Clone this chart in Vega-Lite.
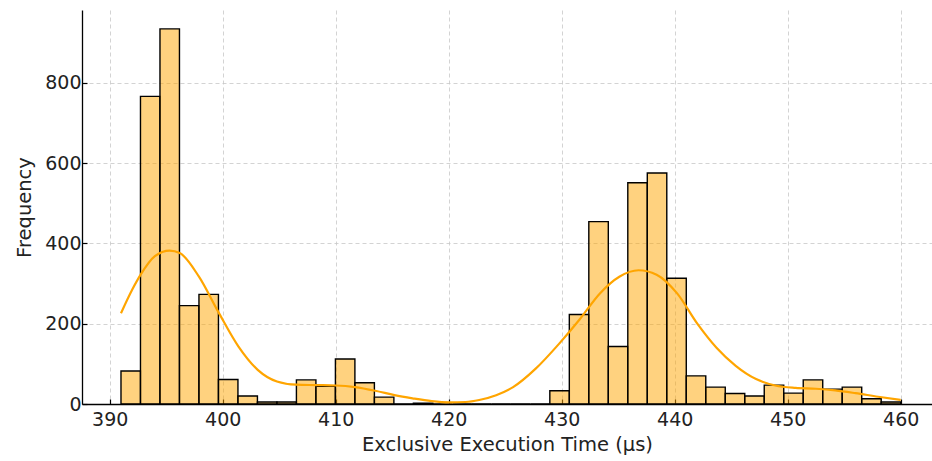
{
  "$schema": "https://vega.github.io/schema/vega-lite/v6.json",
  "width": 850,
  "height": 394,
  "autosize": {"type": "none"},
  "padding": {"left": 82, "top": 10, "right": 0, "bottom": 57},
  "config": {
    "view": {"stroke": null},
    "font": "DejaVu Sans",
    "axis": {
      "labelFont": "DejaVu Sans",
      "titleFont": "DejaVu Sans",
      "labelFontSize": 19,
      "titleFontSize": 19.5,
      "titleFontWeight": "normal",
      "labelColor": "#222222",
      "titleColor": "#222222",
      "domainColor": "#000000",
      "domainWidth": 1.3,
      "tickColor": "#000000",
      "tickSize": -5,
      "tickWidth": 1.2,
      "gridColor": "#c8c8c8",
      "gridDash": [4, 3],
      "gridWidth": 0.8
    }
  },
  "datasets": {
    "bins": [
      {"start": 391.0, "end": 392.725, "count": 82},
      {"start": 392.725, "end": 394.45, "count": 766},
      {"start": 394.45, "end": 396.175, "count": 934},
      {"start": 396.175, "end": 397.9, "count": 245},
      {"start": 397.9, "end": 399.625, "count": 273},
      {"start": 399.625, "end": 401.35, "count": 61},
      {"start": 401.35, "end": 403.075, "count": 20},
      {"start": 403.075, "end": 404.8, "count": 5},
      {"start": 404.8, "end": 406.525, "count": 5},
      {"start": 406.525, "end": 408.25, "count": 60},
      {"start": 408.25, "end": 409.975, "count": 44},
      {"start": 409.975, "end": 411.7, "count": 112},
      {"start": 411.7, "end": 413.425, "count": 53},
      {"start": 413.425, "end": 415.15, "count": 17},
      {"start": 415.15, "end": 416.875, "count": 0},
      {"start": 416.875, "end": 418.6, "count": 2},
      {"start": 418.6, "end": 420.325, "count": 0},
      {"start": 420.325, "end": 422.05, "count": 0},
      {"start": 422.05, "end": 423.775, "count": 0},
      {"start": 423.775, "end": 425.5, "count": 0},
      {"start": 425.5, "end": 427.225, "count": 0},
      {"start": 427.225, "end": 428.95, "count": 0},
      {"start": 428.95, "end": 430.675, "count": 33},
      {"start": 430.675, "end": 432.4, "count": 223},
      {"start": 432.4, "end": 434.125, "count": 454},
      {"start": 434.125, "end": 435.85, "count": 143},
      {"start": 435.85, "end": 437.575, "count": 551},
      {"start": 437.575, "end": 439.3, "count": 575},
      {"start": 439.3, "end": 441.025, "count": 313},
      {"start": 441.025, "end": 442.75, "count": 70},
      {"start": 442.75, "end": 444.475, "count": 42},
      {"start": 444.475, "end": 446.2, "count": 26},
      {"start": 446.2, "end": 447.925, "count": 20},
      {"start": 447.925, "end": 449.65, "count": 47},
      {"start": 449.65, "end": 451.375, "count": 27},
      {"start": 451.375, "end": 453.1, "count": 60},
      {"start": 453.1, "end": 454.825, "count": 37},
      {"start": 454.825, "end": 456.55, "count": 42},
      {"start": 456.55, "end": 458.275, "count": 13},
      {"start": 458.275, "end": 460.0, "count": 5}
    ],
    "kde": [
      {"t": 391.0, "d": 226},
      {"t": 392.0, "d": 285},
      {"t": 392.74, "d": 322},
      {"t": 394.0, "d": 368},
      {"t": 395.3, "d": 382},
      {"t": 396.2, "d": 376},
      {"t": 397.9, "d": 317},
      {"t": 399.6, "d": 230},
      {"t": 401.4, "d": 143},
      {"t": 403.1, "d": 85},
      {"t": 404.8, "d": 56},
      {"t": 406.5, "d": 48},
      {"t": 408.3, "d": 47},
      {"t": 410.0, "d": 46},
      {"t": 411.7, "d": 42},
      {"t": 413.5, "d": 33},
      {"t": 415.2, "d": 22},
      {"t": 416.8, "d": 14},
      {"t": 418.5, "d": 7},
      {"t": 420.0, "d": 4},
      {"t": 421.5, "d": 5},
      {"t": 422.7, "d": 10},
      {"t": 424.2, "d": 22},
      {"t": 425.7, "d": 42},
      {"t": 427.7, "d": 88},
      {"t": 429.8, "d": 151},
      {"t": 431.6, "d": 211},
      {"t": 433.4, "d": 276},
      {"t": 435.1, "d": 317},
      {"t": 436.8, "d": 333},
      {"t": 438.4, "d": 322},
      {"t": 440.2, "d": 276},
      {"t": 442.0, "d": 200},
      {"t": 443.7, "d": 140},
      {"t": 445.4, "d": 95},
      {"t": 447.2, "d": 62},
      {"t": 448.9, "d": 46},
      {"t": 450.7, "d": 40},
      {"t": 452.5, "d": 38},
      {"t": 454.2, "d": 34},
      {"t": 456.0, "d": 27},
      {"t": 458.0, "d": 18},
      {"t": 460.0, "d": 10}
    ]
  },
  "layer": [
    {
      "data": {"name": "bins"},
      "mark": {"type": "bar", "fill": "#FFA500", "fillOpacity": 0.5, "stroke": "#000000", "strokeWidth": 1.4},
      "encoding": {
        "x": {
          "field": "start",
          "type": "quantitative",
          "scale": {"domain": [387.55, 462.77], "nice": false, "zero": false},
          "axis": {
            "values": [390, 400, 410, 420, 430, 440, 450, 460],
            "title": "Exclusive Execution Time (µs)",
            "labelPadding": 11,
            "titlePadding": 6,
            "grid": true
          }
        },
        "x2": {"field": "end"},
        "y": {
          "field": "count",
          "type": "quantitative",
          "scale": {"domain": [0, 981], "nice": false},
          "axis": {
            "values": [0, 200, 400, 600, 800],
            "title": "Frequency",
            "labelPadding": 6,
            "titlePadding": 10,
            "grid": true
          }
        },
        "y2": {"datum": 0}
      }
    },
    {
      "data": {"name": "kde"},
      "mark": {"type": "line", "color": "#FFA500", "strokeWidth": 2.2, "interpolate": "monotone"},
      "encoding": {
        "x": {"field": "t", "type": "quantitative"},
        "y": {"field": "d", "type": "quantitative"}
      }
    }
  ]
}
